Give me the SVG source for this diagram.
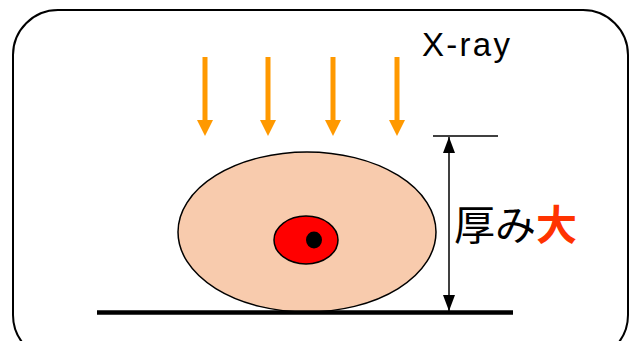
<svg xmlns="http://www.w3.org/2000/svg" width="631" height="341" viewBox="0 0 631 341">
<style>
.ray{stroke:#FF9900;stroke-width:5;fill:none}
.dim{stroke:#000;stroke-width:1.5;fill:none}
.lbl{font-family:"Noto Sans CJK JP","Liberation Sans",sans-serif;font-size:41px;fill:#000}
</style>
<defs>
<marker id="bh" markerUnits="userSpaceOnUse" markerWidth="16" markerHeight="12" refX="16" refY="6" orient="auto-start-reverse" viewBox="0 0 16 12"><path d="M0,0 L16,6 L0,12 Z" fill="#000"/></marker>
</defs>
<rect id="frame" x="13" y="10" width="615" height="350" rx="45" fill="#fff" stroke="#000" stroke-width="2"/>
<g id="xray">
<text x="422" y="56" font-family="Liberation Sans, sans-serif" font-size="33" textLength="88" lengthAdjust="spacing">X-ray</text>
</g>
<g id="rays">
<line class="ray" x1="205" y1="57" x2="205" y2="122"/><path d="M197,120 L213,120 L205,136 Z" fill="#FF9900"/>
<line class="ray" x1="268" y1="57" x2="268" y2="122"/><path d="M260,120 L276,120 L268,136 Z" fill="#FF9900"/>
<line class="ray" x1="333" y1="57" x2="333" y2="122"/><path d="M325,120 L341,120 L333,136 Z" fill="#FF9900"/>
<line class="ray" x1="397" y1="57" x2="397" y2="122"/><path d="M389,120 L405,120 L397,136 Z" fill="#FF9900"/>
</g>
<g id="body">
<ellipse cx="307" cy="232" rx="129" ry="80" fill="#F8CBAD" stroke="#000" stroke-width="1.5"/>
</g>
<g id="tumor">
<ellipse cx="306" cy="240" rx="32" ry="24" fill="#FF0000" stroke="#000" stroke-width="1.5"/>
<ellipse cx="314" cy="240" rx="8" ry="8.5" fill="#000"/>
</g>
<g id="ground">
<line x1="97" y1="312.5" x2="513" y2="312.5" stroke="#000" stroke-width="4.5"/>
</g>
<g id="connectors">
<line class="dim" x1="433" y1="136" x2="498" y2="136"/>
<line class="dim" x1="449" y1="137" x2="449" y2="311" marker-start="url(#bh)" marker-end="url(#bh)"/>
</g>
<g id="thickness">
<text class="lbl" x="454" y="240">厚み<tspan fill="#FF3300" font-weight="bold">大</tspan></text>
</g>
</svg>
